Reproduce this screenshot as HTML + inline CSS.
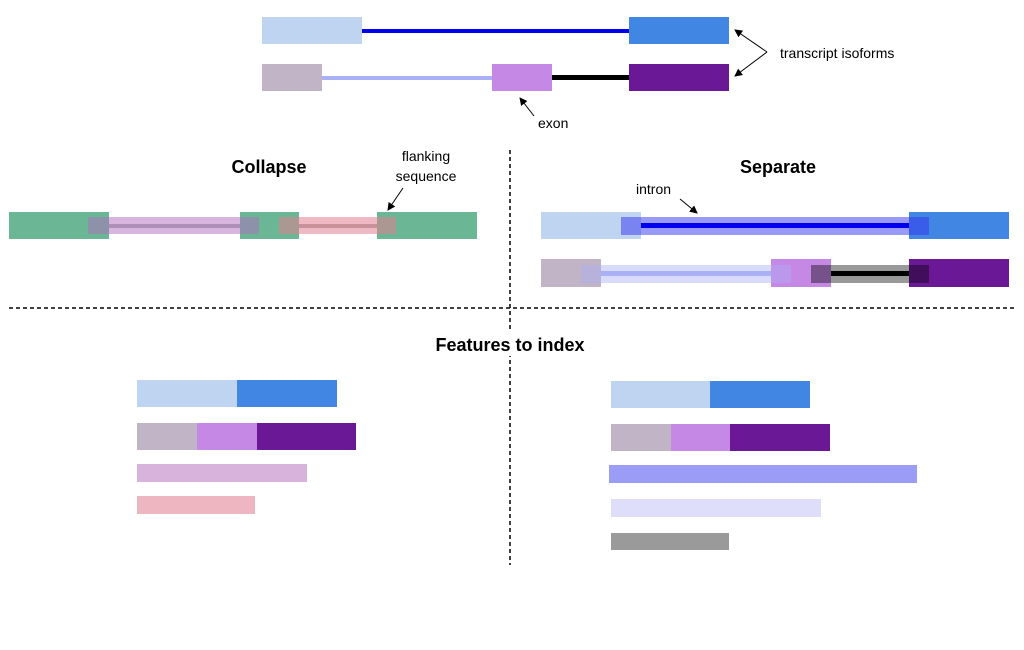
<!DOCTYPE html>
<html><head><meta charset="utf-8"><style>
html,body{margin:0;padding:0;background:#fff;}
svg{display:block;}
text{font-family:"Liberation Sans",sans-serif;}
</style></head><body>
<svg width="1024" height="650" viewBox="0 0 1024 650" xmlns="http://www.w3.org/2000/svg">
<defs><marker id="ah" markerWidth="8" markerHeight="8" refX="7" refY="4" orient="auto" markerUnits="userSpaceOnUse"><path d="M0,0 L8,4 L0,8 z" fill="#000"/></marker></defs>
<!-- top isoforms -->
<rect x="262" y="17" width="100" height="27" fill="#bed4f0"/>
<rect x="362" y="29" width="267" height="4" fill="#0000ee"/>
<rect x="629" y="17" width="100" height="27" fill="#4186e3"/>
<rect x="262" y="64" width="60" height="27" fill="#c0b4c6"/>
<rect x="322" y="76" width="170" height="4" fill="#aab0f5"/>
<rect x="492" y="64" width="60" height="27" fill="#c688e5"/>
<rect x="552" y="75" width="77" height="5" fill="#000"/>
<rect x="629" y="64" width="100" height="27" fill="#6b1896"/>
<line x1="767" y1="52" x2="735" y2="30" stroke="#000" stroke-width="1" marker-end="url(#ah)"/>
<line x1="767" y1="52" x2="735" y2="76" stroke="#000" stroke-width="1" marker-end="url(#ah)"/>
<text x="780" y="58" font-size="14">transcript isoforms</text>
<line x1="534" y1="116" x2="520" y2="98" stroke="#000" stroke-width="1" marker-end="url(#ah)"/>
<text x="538" y="128" font-size="14">exon</text>
<!-- titles -->
<text x="269" y="173" font-size="18" font-weight="bold" text-anchor="middle">Collapse</text>
<text x="778" y="173" font-size="18" font-weight="bold" text-anchor="middle">Separate</text>
<text x="426" y="161" font-size="14" text-anchor="middle">flanking</text>
<text x="426" y="181" font-size="14" text-anchor="middle">sequence</text>
<line x1="403" y1="188" x2="388" y2="210" stroke="#000" stroke-width="1" marker-end="url(#ah)"/>
<!-- collapse -->
<rect x="9" y="212" width="100" height="27" fill="#6bb795"/>
<rect x="240" y="212" width="59" height="27" fill="#6bb795"/>
<rect x="377" y="212" width="100" height="27" fill="#6bb795"/>
<rect x="88" y="217" width="171" height="17" fill="#b06cc0" fill-opacity="0.5"/>
<rect x="109" y="224" width="131" height="4" fill="#a080a8" fill-opacity="0.7"/>
<rect x="279" y="217" width="117" height="17" fill="#e08090" fill-opacity="0.55"/>
<rect x="299" y="224" width="78" height="4" fill="#b07880" fill-opacity="0.6"/>
<!-- separate -->
<rect x="541" y="212" width="100" height="27" fill="#bed4f0"/>
<rect x="909" y="212" width="100" height="27" fill="#4186e3"/>
<rect x="621" y="217" width="308" height="18" fill="#3434f0" fill-opacity="0.5"/>
<rect x="641" y="223" width="268" height="5" fill="#0000ee"/>
<text x="636" y="194" font-size="14">intron</text>
<line x1="680" y1="199" x2="697" y2="213" stroke="#000" stroke-width="1" marker-end="url(#ah)"/>
<rect x="541" y="259" width="60" height="28" fill="#c0b4c6"/>
<rect x="771" y="259" width="60" height="28" fill="#c688e5"/>
<rect x="909" y="259" width="100" height="28" fill="#6b1896"/>
<rect x="581" y="265" width="210" height="18" fill="#aab0f5" fill-opacity="0.45"/>
<rect x="601" y="271" width="170" height="5" fill="#aab0f5"/>
<rect x="811" y="265" width="118" height="18" fill="#000" fill-opacity="0.4"/>
<rect x="831" y="271" width="78" height="5" fill="#000"/>
<!-- dashed -->
<line x1="510" y1="150" x2="510" y2="565" stroke="#000" stroke-width="1.5" stroke-dasharray="4,3"/>
<line x1="9" y1="308" x2="1015" y2="308" stroke="#000" stroke-width="1.5" stroke-dasharray="4,3"/>
<rect x="405" y="330" width="210" height="26" fill="#fff"/>
<text x="510" y="351" font-size="18" font-weight="bold" text-anchor="middle">Features to index</text>
<!-- features left -->
<rect x="137" y="380" width="100" height="27" fill="#bed4f0"/>
<rect x="237" y="380" width="100" height="27" fill="#4186e3"/>
<rect x="137" y="423" width="60" height="27" fill="#c0b4c6"/>
<rect x="197" y="423" width="60" height="27" fill="#c688e5"/>
<rect x="257" y="423" width="99" height="27" fill="#6b1896"/>
<rect x="137" y="464" width="170" height="18" fill="#d8b3dc"/>
<rect x="137" y="496" width="118" height="18" fill="#eeb6c0"/>
<!-- features right -->
<rect x="611" y="381" width="99" height="27" fill="#bed4f0"/>
<rect x="710" y="381" width="100" height="27" fill="#4186e3"/>
<rect x="611" y="424" width="60" height="27" fill="#c0b4c6"/>
<rect x="671" y="424" width="59" height="27" fill="#c688e5"/>
<rect x="730" y="424" width="100" height="27" fill="#6b1896"/>
<rect x="609" y="465" width="308" height="18" fill="#9b9cf5"/>
<rect x="611" y="499" width="210" height="18" fill="#dedefa"/>
<rect x="611" y="533" width="118" height="17" fill="#9a9a9a"/>
</svg>
</body></html>
